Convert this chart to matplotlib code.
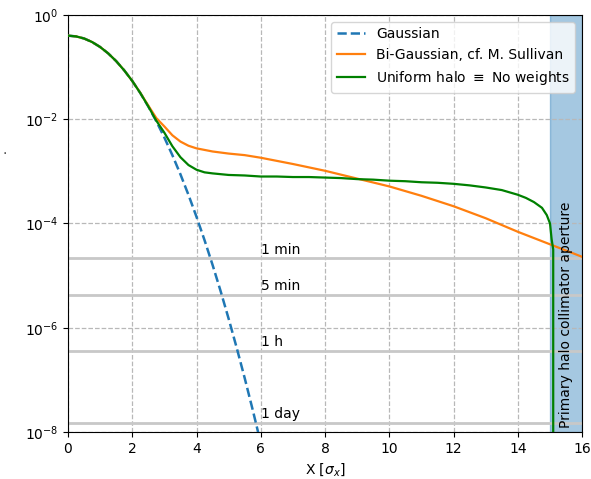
import numpy as np
import matplotlib
matplotlib.use("Agg")
import matplotlib.pyplot as plt

# ---- data (log10 of the normalised density) ----
gauss_x = [0, 0.25, 0.5, 0.75, 1, 1.25, 1.5, 1.75, 2, 2.25, 2.5, 2.75, 3,
           3.25, 3.5, 3.75, 4, 4.25, 4.5, 4.75, 5, 5.25, 5.5, 5.75, 6]
gauss_log10 = [-0.399, -0.413, -0.453, -0.521, -0.616, -0.738, -0.887, -1.064,
               -1.267, -1.498, -1.756, -2.041, -2.353, -2.692, -3.058, -3.452,
               -3.873, -4.321, -4.795, -5.297, -5.827, -6.383, -6.966, -7.577, -8.215]

bigauss_x = [0, 0.25, 0.5, 0.75, 1, 1.25, 1.5, 1.75, 2, 2.25, 2.5, 2.75, 3,
             3.25, 3.5, 3.75, 4, 4.5, 5, 5.5, 6, 7, 8, 9, 10, 11, 12, 13, 14, 15, 16]
bigauss_log10 = [-0.399, -0.413, -0.453, -0.521, -0.616, -0.738, -0.887, -1.064,
                 -1.267, -1.495, -1.740, -1.98, -2.14, -2.31, -2.43, -2.51, -2.56,
                 -2.62, -2.66, -2.69, -2.74, -2.86, -2.99, -3.14, -3.29, -3.47,
                 -3.67, -3.90, -4.16, -4.40, -4.64]

halo_x = [0, 0.25, 0.5, 0.75, 1, 1.25, 1.5, 1.75, 2, 2.25, 2.5, 2.75, 3,
          3.25, 3.5, 3.75, 4, 4.25, 4.5, 5, 5.5, 6, 6.5, 7, 7.5, 8, 8.5, 9,
          9.5, 10, 10.5, 11, 11.5, 12, 12.5, 13, 13.5, 14, 14.25, 14.5, 14.75,
          14.9, 15.0, 15.05, 15.1, 15.1]
halo_log10 = [-0.399, -0.413, -0.453, -0.521, -0.616, -0.738, -0.887, -1.064,
              -1.267, -1.498, -1.756, -2.03, -2.26, -2.52, -2.73, -2.88, -2.97,
              -3.02, -3.04, -3.07, -3.08, -3.10, -3.10, -3.11, -3.11, -3.12,
              -3.13, -3.15, -3.16, -3.18, -3.19, -3.21, -3.22, -3.24, -3.27,
              -3.31, -3.36, -3.45, -3.51, -3.59, -3.70, -3.84, -4.00, -4.30,
              -4.50, -9.00]

lifetime_labels = ["1 min", "5 min", "1 h", "1 day"]
lifetime_values = [2.15e-5, 4.3e-6, 3.58e-7, 1.49e-8]

aperture = [15.0, 16.0]

# ---- figure ----
fig = plt.figure(figsize=(5.91, 4.79), dpi=100)
ax = fig.add_axes([0.115, 0.098, 0.870, 0.871])

for val, lab in zip(lifetime_values, lifetime_labels):
    ax.axhline(val, color="#c8c8c8", lw=2, zorder=1)
    ax.text(6.0, val * 1.08, lab, ha="left", va="bottom", fontsize=10, zorder=2)

ax.plot(gauss_x, 10 ** np.array(gauss_log10), ls="--", color="C0", lw=1.8,
        label="Gaussian", zorder=3)
ax.plot(bigauss_x, 10 ** np.array(bigauss_log10), color="C1", lw=1.6,
        label="Bi-Gaussian, cf. M. Sullivan", zorder=3)
ax.plot(halo_x, 10 ** np.array(halo_log10), color="green", lw=1.6,
        label="Uniform halo $\\equiv$ No weights", zorder=3)

ax.axvspan(aperture[0], aperture[1], color="C0", alpha=0.4, zorder=0)
ax.text(0.5 * (aperture[0] + aperture[1]), 0.01, "Primary halo collimator aperture",
        rotation=90, ha="center", va="bottom", fontsize=10,
        transform=ax.get_xaxis_transform())

ax.set_yscale("log")
ax.set_xlim(0, 16)
ax.set_ylim(1e-8, 1)
ax.set_yticks([1e-8, 1e-6, 1e-4, 1e-2, 1])
ax.yaxis.set_minor_locator(matplotlib.ticker.NullLocator())
ax.set_xticks(range(0, 17, 2))
ax.grid(True, ls="--", color="#b8b8b8", lw=0.9)
ax.set_axisbelow(True)
ax.set_xlabel("X [$\\sigma_x$]", fontsize=10)
ax.tick_params(labelsize=10)
ax.legend(loc="upper right", fontsize=10)

fig.text(5 / 591, 1 - 154 / 479, ".", ha="center", va="baseline", fontsize=10,
         color="#444444")

fig.savefig("out.png", dpi=100)
